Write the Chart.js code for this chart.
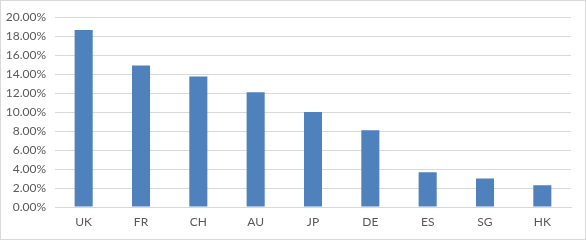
<!DOCTYPE html>
<html lang="en">
<head>
  <meta charset="UTF-8">
  <title>Weights by country</title>
  <script src="https://cdn.jsdelivr.net/npm/chart.js"></script>
  <style>
    body { margin: 0; background: #fff; }
    .box { width: 586px; height: 240px; box-sizing: border-box; border: 1px solid #d9d9d9; }
  </style>
</head>
<body>
  <div class="box">
    <canvas id="chart" width="584" height="238"></canvas>
  </div>
  <script>
    const countries = ['UK', 'FR', 'CH', 'AU', 'JP', 'DE', 'ES', 'SG', 'HK'];
    const weights = [18.65, 14.9, 13.75, 12.1, 10.0, 8.1, 3.65, 3.0, 2.3];
    const yMax = 20;
    const yStep = 2;

    new Chart(document.getElementById('chart'), {
      type: 'bar',
      data: {
        labels: countries,
        datasets: [{
          data: weights,
          backgroundColor: '#4f81bd',
          categoryPercentage: 1,
          barPercentage: 0.315
        }]
      },
      options: {
        responsive: false,
        animation: false,
        layout: { padding: { top: 14, right: 14, bottom: 0, left: 0 } },
        plugins: { legend: { display: false }, tooltip: { enabled: false } },
        scales: {
          x: {
            grid: { display: false, drawTicks: false },
            border: { color: '#d9d9d9' },
            ticks: { color: '#595959', font: { family: 'Lato', size: 12 }, padding: 8 },
            afterFit: s => { s.height = 32; }
          },
          y: {
            min: 0,
            max: yMax,
            ticks: {
              stepSize: yStep,
              color: '#595959',
              font: { family: 'Lato', size: 12 },
              padding: 9,
              callback: v => v.toFixed(2) + '%'
            },
            grid: { color: '#d9d9d9', drawTicks: false },
            border: { display: false },
            afterFit: s => { s.width = 54; }
          }
        }
      }
    });
  </script>
</body>
</html>
